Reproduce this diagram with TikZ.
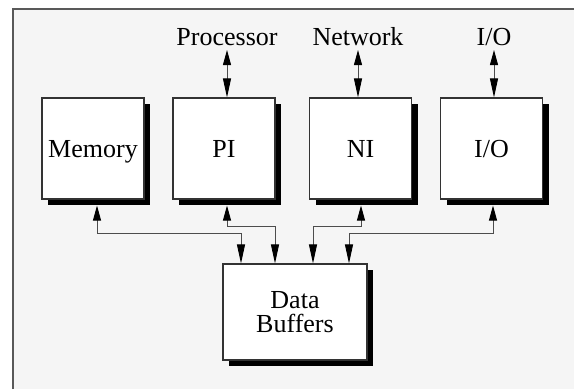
\documentclass[tikz,border=0pt]{standalone}
\usepackage{fontspec}
\setmainfont{Liberation Serif}
\usetikzlibrary{arrows.meta,shadows}
\definecolor{bgfill}{HTML}{F5F5F5}
\begin{document}
\begin{tikzpicture}[x=1pt,y=-1pt,
  boxbase/.style={draw=black!80, line width=1.1pt, fill=white,
    drop shadow={shadow xshift=6pt, shadow yshift=-6pt, fill=black, opacity=1},
    font=\fontsize{26}{24}\selectfont, inner sep=0pt},
  unit/.style={boxbase, minimum width=102pt, minimum height=101pt, text height=17pt, text depth=0pt},
  lbl/.style={font=\fontsize{26}{24}\selectfont, anchor=base, inner sep=0pt},
  conn/.style={draw=black!70, line width=0.9pt},
  dbl/.style={conn, {Triangle[length=15pt,width=8pt,color=black]}-{Triangle[length=19pt,width=8pt,color=black]}},
  bus/.style={conn, {Triangle[length=19pt,width=8pt,color=black]}-{Triangle[length=15pt,width=8pt,color=black]}}
]
\useasboundingbox (0,0) rectangle (574,389);
\fill[bgfill] (13,9) rectangle (574,389);
\draw[black!65, line width=1.4pt] (13,389) -- (13,9) -- (574,9);

\node[unit] (mem) at (93,148.5) {Memory};
\node[unit] (pi)  at (224,148.5) {PI};
\node[unit] (ni)  at (360.5,148.5) {NI};
\node[unit] (io)  at (491.5,148.5) {I/O};
\node[boxbase, minimum width=144pt, minimum height=96pt, align=center] (db) at (295,312) {Data\\Buffers};

\node[lbl] (proc) at (227,45) {Processor};
\node[lbl] (net)  at (358,45) {Network};
\node[lbl] (iol)  at (494,45) {I/O};

\draw[dbl] ([yshift=-5pt]proc.base) -- (proc.base |- pi.north);
\draw[dbl] ([yshift=-5pt]net.base) -- (net.base |- ni.north);
\draw[dbl] ([yshift=-5pt]iol.base) -- (iol.base |- io.north);

\draw[bus] ([xshift=-54pt]db.north) -- ++(0,-30) -| ([xshift=4pt,yshift=-6pt]mem.south);
\draw[bus] ([xshift=-20pt]db.north) -- ++(0,-37) -| ([xshift=3pt,yshift=-6pt]pi.south);
\draw[bus] ([xshift=18pt]db.north) -- ++(0,-37) -| ([xshift=0.5pt,yshift=-6pt]ni.south);
\draw[bus] ([xshift=54pt]db.north) -- ++(0,-30) -| ([xshift=1.5pt,yshift=-6pt]io.south);
\end{tikzpicture}
\end{document}
